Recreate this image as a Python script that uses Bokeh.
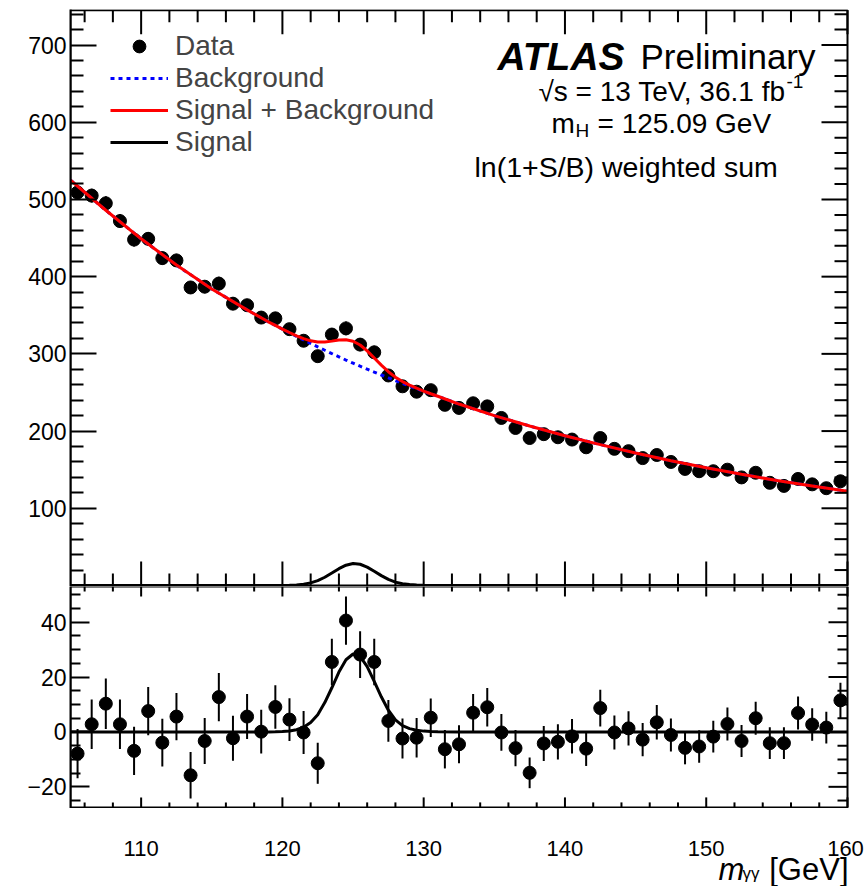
import numpy as np
from bokeh.plotting import figure
from bokeh.models import Range1d, FixedTicker, Label, Legend, LegendItem
from bokeh.core.properties import value
from bokeh.layouts import column
from bokeh.embed import file_html
from bokeh.resources import INLINE

FONT = "Liberation Sans"

# ---------------- data ----------------
mass = [105.5, 106.5, 107.5, 108.5, 109.5, 110.5, 111.5, 112.5, 113.5, 114.5,
        115.5, 116.5, 117.5, 118.5, 119.5, 120.5, 121.5, 122.5, 123.5, 124.5,
        125.5, 126.5, 127.5, 128.5, 129.5, 130.5, 131.5, 132.5, 133.5, 134.5,
        135.5, 136.5, 137.5, 138.5, 139.5, 140.5, 141.5, 142.5, 143.5, 144.5,
        145.5, 146.5, 147.5, 148.5, 149.5, 150.5, 151.5, 152.5, 153.5, 154.5,
        155.5, 156.5, 157.5, 158.5, 159.5]

weighted_data = [509, 505, 495, 472, 448, 449, 424, 421, 386, 387,
                 391, 365, 363, 347, 346, 332, 317, 297, 325, 333,
                 312, 302, 272, 258, 251, 253, 234, 230, 236, 232,
                 217, 204, 191, 196, 192, 189, 179, 191, 177, 174,
                 165, 169, 160, 151, 148, 148, 150, 140, 146, 133,
                 129, 138, 131, 126, 135]

residual = [-7.9, 2.8, 10.3, 2.8, -6.9, 7.6, -3.9, 5.6, -15.8, -3.3,
            12.7, -2.3, 5.6, 0.1, 9.1, 4.5, -0.2, -11.4, 25.5, 40.6,
            28.2, 25.5, 4.0, -2.4, -2.1, 5.2, -6.3, -4.5, 7.0, 9.0,
            -0.2, -5.9, -14.9, -4.2, -3.6, -1.6, -6.1, 8.7, -0.2, 1.3,
            -2.8, 3.5, -1.1, -5.8, -5.3, -1.7, 2.9, -3.3, 5.0, -4.1,
            -4.1, 6.9, 2.7, 1.6, 11.5]

data_error = [9.0, 9.0, 9.2, 9.0, 8.8, 8.8, 8.7, 8.6,
              8.5, 8.4, 8.8, 8.2, 8.2, 8.0, 7.9, 7.8,
              7.8, 7.5, 8.5, 8.8, 8.5, 8.5, 7.6, 7.3,
              7.2, 7.0, 7.0, 6.9, 6.8, 7.0, 6.7, 6.6,
              5.6, 6.4, 6.4, 6.3, 6.3, 6.7, 6.2, 6.2,
              6.1, 6.3, 6.0, 6.0, 5.9, 5.8, 6.0, 5.8,
              6.0, 5.8, 5.8, 6.0, 5.9, 5.8, 6.4]

curve_mass = [105, 107.5, 110, 112.5, 115, 117.5,
              119, 119.5, 120, 120.5, 121, 121.5, 122, 122.5, 123, 123.5,
              124, 124.5, 125, 125.5, 126, 126.5, 127, 127.5, 128, 128.5,
              129, 129.5, 130, 130.5, 131,
              132.5, 135, 137.5, 140, 142.5, 145, 147.5, 150, 152.5, 155,
              157.5, 160]

background = [525, 486, 449, 415, 384, 357,
              341.5, 336.8, 332, 327.3, 322.6, 318, 313.5, 309, 304.7, 300.4,
              296.2, 292, 288, 284, 280.1, 276.3, 272.6, 269, 265.4, 261.8,
              258.3, 254.9, 251.5, 248.2, 245,
              235, 220, 206.5, 194, 182.5, 171.5, 161.5, 152.5, 144, 136,
              129, 122]

signal = [0, 0, 0, 0, 0, 0,
          0.01, 0.05, 0.12, 0.35, 0.8, 1.7, 3.4, 6.3, 10.7, 16.1,
          21.8, 26.3, 28.4, 27.5, 23.8, 18.4, 12.8, 7.9, 4.4, 2.3,
          1.2, 0.6, 0.3, 0.15, 0.07,
          0, 0, 0, 0, 0, 0, 0, 0, 0, 0,
          0, 0]

x_major = [110, 120, 130, 140, 150, 160]
x_tick_labels = ["110", "120", "130", "140", "150", "160"]
x_minor = [v for v in range(106, 160, 2) if v % 10]
top_y_major = [100, 200, 300, 400, 500, 600, 700]
top_y_minor = [v for v in range(20, 760, 20) if v % 100]
bot_y_major = [-20, 0, 20, 40]
bot_y_minor = [v for v in range(-25, 55, 5) if v % 20]

# ---------------- derived ----------------
m = np.array(mass)
d = np.array(weighted_data, dtype=float)
r = np.array(residual, dtype=float)
e = np.array(data_error, dtype=float)
cm = np.array(curve_mass, dtype=float)
bkg = np.array(background, dtype=float)
sig = np.array(signal, dtype=float)
spb = bkg + sig

# ---------------- geometry ----------------
LEFT = 70
AXIS_W = 777                     # drawn panel width (105 .. 160)
FW = 864 - LEFT                  # frame width (extends to page edge)
X0, X1 = 105, 160
PX = AXIS_W / (X1 - X0)
XR = (X0, X0 + FW / PX)
TOP1 = 9
H1 = 586
FH1 = H1 - TOP1
H2 = 222
H3 = 886 - H1 - H2
BOX1 = (0, 745)                  # drawn y-extent, upper panel
BOX2 = (-27.5, 53)               # drawn y-extent, lower panel
Y1 = (-1.3, 746)
Y2 = (-27.9, 53)
PY1 = FH1 / (Y1[1] - Y1[0])
PY2 = H2 / (Y2[1] - Y2[0])

xrange_shared = Range1d(*XR)


def base_fig(height, yr, top):
    p = figure(width=864, height=height, x_range=xrange_shared,
               y_range=Range1d(*yr), output_backend="svg",
               toolbar_location=None, x_axis_location=None,
               min_border_left=LEFT, min_border_right=0,
               min_border_top=top, min_border_bottom=0)
    p.grid.visible = False
    p.outline_line_color = None
    p.background_fill_color = "white"
    p.border_fill_color = "white"
    return p


def style_left(ax, major_in, minor_in):
    ax.major_tick_in = major_in
    ax.major_tick_out = 0
    ax.minor_tick_in = minor_in
    ax.minor_tick_out = 0
    ax.axis_line_color = "black"
    ax.axis_line_width = 2
    ax.major_tick_line_width = 2
    ax.minor_tick_line_width = 2
    ax.major_label_text_font = FONT
    ax.major_label_text_font_size = "23px"
    ax.major_label_text_color = "black"
    ax.major_label_standoff = 4


def frame_box(p, box, py, xmaj, xmin, ymaj, ymin, ymaj_len, ymin_len):
    kw = dict(line_color="black", line_width=2)
    for xs, ln in ((x_major, xmaj), (x_minor, xmin)):
        p.segment(x0=xs, y0=box[0], x1=xs, y1=box[0] + ln / py, **kw)
        p.segment(x0=xs, y0=box[1], x1=xs, y1=box[1] - ln / py, **kw)
    for ys, ln in ((ymaj, ymaj_len), (ymin, ymin_len)):
        p.segment(x0=X1, y0=ys, x1=X1 - ln / PX, y1=ys, **kw)
    p.quad(left=X0, right=X1, bottom=box[0], top=box[1], fill_color=None,
           line_color="black", line_width=2)


def add_text(p, x, y, text, size, style="normal", align="left"):
    p.add_layout(Label(x=x, y=y, x_units="screen", y_units="screen", text=text,
                       text_font=FONT, text_font_size=size,
                       text_font_style=style, text_align=align,
                       text_baseline="alphabetic", text_color="black"))


# ---------------- upper panel ----------------
p1 = base_fig(H1, Y1, TOP1)
p1.yaxis.ticker = FixedTicker(ticks=top_y_major, minor_ticks=top_y_minor)
style_left(p1.yaxis[0], 26, 13)

p1.segment(x0=m, y0=d - e, x1=m, y1=d + e, line_color="black", line_width=2)
r_data = p1.scatter(m, d, size=13, marker="circle", fill_color="black",
                    line_color="black")
r_bkg = p1.line(cm, bkg, line_color="#0000ff", line_width=3, line_dash="4 4")
r_spb = p1.line(cm, spb, line_color="#ff0000", line_width=3)
r_sig = p1.line(cm, sig, line_color="black", line_width=3)
frame_box(p1, BOX1, PY1, 24, 12, top_y_major, top_y_minor, 26, 13)

legend = Legend(items=[LegendItem(label="Data", renderers=[r_data]),
                       LegendItem(label="Background", renderers=[r_bkg]),
                       LegendItem(label="Signal + Background", renderers=[r_spb]),
                       LegendItem(label="Signal", renderers=[r_sig])],
                location=(40, 428), padding=0, margin=0, spacing=0,
                glyph_width=58, glyph_height=32, label_height=32,
                label_standoff=7, label_text_font=FONT,
                label_text_font_size="28px", label_text_baseline="middle",
                background_fill_alpha=0, border_line_alpha=0)
p1.add_layout(legend)

add_text(p1, 427, 530, "ATLAS", "39px", "bold italic", "left")
add_text(p1, 745, 530, "Preliminary", "35px", "normal", "right")
add_text(p1, 715, 495, "\u221as = 13 TeV, 36.1 fb", "28px", "normal", "right")
add_text(p1, 716, 505, "-1", "19px", "normal", "left")
add_text(p1, 481, 463, "m", "28px", "normal", "left")
add_text(p1, 505, 456, "H", "19px", "normal", "left")
add_text(p1, 527, 463, "= 125.09 GeV", "28px", "normal", "left")
add_text(p1, 404, 420, "ln(1+S/B) weighted sum", "28.5px", "normal", "left")

# ---------------- lower panel ----------------
p2 = base_fig(H2, Y2, 0)
p2.yaxis.ticker = FixedTicker(ticks=bot_y_major, minor_ticks=bot_y_minor)
style_left(p2.yaxis[0], 19, 10)
p2.yaxis.major_label_overrides = {-20: "\u221220"}

p2.segment(x0=m, y0=r - e, x1=m, y1=r + e, line_color="black", line_width=2)
p2.scatter(m, r, size=13, marker="circle", fill_color="black",
           line_color="black")
p2.line(cm, sig, line_color="black", line_width=3)
frame_box(p2, BOX2, PY2, 10, 5, bot_y_major, bot_y_minor, 19, 10)

# ---------------- tick labels + axis title strip ----------------
p3 = figure(width=864, height=H3, x_range=xrange_shared,
            y_range=Range1d(0, H3), output_backend="svg",
            toolbar_location=None, x_axis_location=None, y_axis_location=None,
            min_border_left=LEFT, min_border_right=0, min_border_top=0,
            min_border_bottom=0)
p3.grid.visible = False
p3.outline_line_color = None
p3.background_fill_color = "white"
p3.border_fill_color = "white"
tick_kw = dict(text_font=value(FONT), text_font_size="22px",
               text_align="center", text_baseline="middle", text_color="black")
p3.text(x=x_major[:-1], y=H3 - 40, text=x_tick_labels[:-1], **tick_kw)
p3.text(x=x_major[-1:], y=H3 - 40, text=x_tick_labels[-1:], x_offset=-2,
        **tick_kw)
add_text(p3, 648, 17, "m", "31px", "italic", "left")
add_text(p3, 672, 13, "\u03b3\u03b3", "17px", "normal", "left")
add_text(p3, 778, 17, "[GeV]", "31px", "normal", "right")

layout = column(p1, p2, p3, spacing=0)
open("out.html", "w").write(file_html(layout, INLINE))
